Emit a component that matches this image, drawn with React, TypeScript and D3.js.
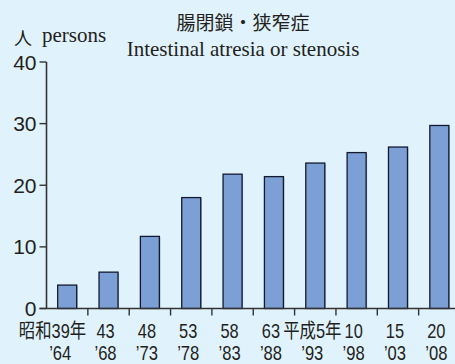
import React from "react";
import * as d3 from "d3";

const years = ["1964", "1968", "1973", "1978", "1983", "1988", "1993", "1998", "2003", "2008"];
const eraLabels = ["昭和39年", "43", "48", "53", "58", "63", "平成5年", "10", "15", "20"];
const westernLabels = ["’64", "’68", "’73", "’78", "’83", "’88", "’93", "’98", "’03", "’08"];
const values = [3.8, 5.9, 11.7, 18.0, 21.8, 21.4, 23.6, 25.3, 26.2, 29.7];
const yTicks = [0, 10, 20, 30, 40];

const W = 455;
const H = 364;
const margin = { left: 46.5, right: -5, top: 62, bottom: 55.5 };

export default function App() {
  const x = d3
    .scaleBand<string>()
    .domain(years)
    .range([margin.left, W - margin.right])
    .paddingInner(0)
    .paddingOuter(0);
  const y = d3
    .scaleLinear()
    .domain([0, 40])
    .range([H - margin.bottom, margin.top]);
  const barW = 19;
  const y0 = y(0);
  const boundaries = years.slice(1).map((yr) => x(yr)!);
  const sans = "'Liberation Sans', Arial, sans-serif";
  const serif = "'Liberation Serif', 'Times New Roman', serif";
  const cjk = "'Noto Sans CJK JP', sans-serif";
  const labelFont = "'Liberation Sans', 'Noto Sans CJK JP', sans-serif";
  const textColor = "#231f20";
  const axisColor = "#333";

  return (
    <svg
      width={W}
      height={H}
      style={{ position: "absolute", left: 0, top: 0, display: "block" }}
    >
      <rect x={0} y={0} width={W} height={H} fill="#e0f2fc" />
      {/* title */}
      <text x={243} y={30} textAnchor="middle" fontFamily={cjk} fontSize={19} fill={textColor}>
        腸閉鎖・狭窄症
      </text>
      <text x={243} y={56} textAnchor="middle" fontFamily={serif} fontSize={21} fill={textColor}>
        Intestinal atresia or stenosis
      </text>
      {/* unit */}
      <text x={14} y={45} fontFamily={cjk} fontSize={18} fill={textColor}>
        人
      </text>
      <text x={42} y={42} fontFamily={serif} fontSize={21} fill={textColor}>
        persons
      </text>
      {/* bars */}
      {values.map((v, i) => {
        const cx = x(years[i])! + x.bandwidth() / 2;
        const top = y(v);
        return (
          <g key={years[i]}>
            <rect
              x={cx - barW / 2 + 1}
              y={top + 0.5}
              width={barW}
              height={y0 - top}
              fill="#8a94a8"
              opacity={0.7}
            />
            <rect
              x={cx - barW / 2}
              y={top}
              width={barW}
              height={y0 - top}
              fill="#7c9fd6"
              stroke="#141a30"
              strokeWidth={1.3}
            />
          </g>
        );
      })}
      {/* y axis */}
      <line x1={margin.left} x2={margin.left} y1={y(40)} y2={y0} stroke={axisColor} strokeWidth={1.6} />
      {yTicks.map((t) => (
        <g key={t}>
          <line x1={margin.left - 7} x2={margin.left} y1={y(t)} y2={y(t)} stroke={axisColor} strokeWidth={1.4} />
          <text
            x={margin.left - 10}
            y={y(t) + 7.5}
            textAnchor="end"
            fontFamily={sans}
            fontSize={21}
            fill={textColor}
          >
            {t}
          </text>
        </g>
      ))}
      {/* x axis */}
      <line x1={margin.left - 7} x2={W} y1={y0} y2={y0} stroke={axisColor} strokeWidth={1.6} />
      {boundaries.map((bx, i) => (
        <line key={i} x1={bx} x2={bx} y1={y0} y2={y0 + 7} stroke={axisColor} strokeWidth={1.4} />
      ))}
      {years.map((yr, i) => {
        const cx = x(yr)! + x.bandwidth() / 2;
        const first = i === 0;
        return (
          <g key={yr}>
            <text
              transform={`translate(${first ? cx + 19 : cx - 3},${y0 + 29}) scale(0.82,1)`}
              textAnchor={first ? "end" : "middle"}
              fontFamily={labelFont}
              fontSize={20}
              fill={textColor}
            >
              {eraLabels[i]}
            </text>
            <text
              transform={`translate(${first ? cx - 7 : cx - 3},${y0 + 51}) scale(0.85,1)`}
              textAnchor="middle"
              fontFamily={labelFont}
              fontSize={19.5}
              fill={textColor}
            >
              {westernLabels[i]}
            </text>
          </g>
        );
      })}
    </svg>
  );
}
